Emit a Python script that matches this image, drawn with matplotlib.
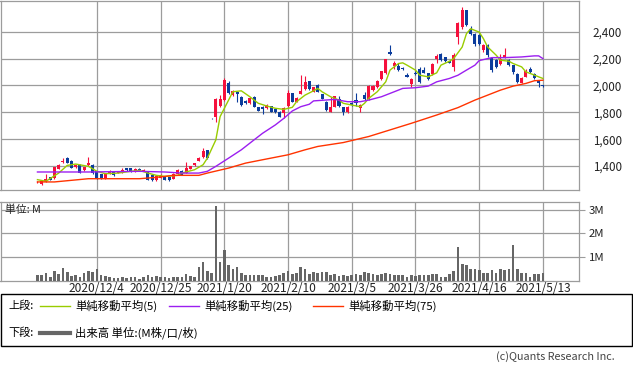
import matplotlib
matplotlib.use("Agg")
import numpy as np
import matplotlib.pyplot as plt
from matplotlib.lines import Line2D
from matplotlib.patches import Rectangle

plt.rcParams['font.family'] = ['Noto Sans CJK JP', 'DejaVu Sans']

# daily candles (yen)
opens = [1280, 1269, 1286, 1318, 1311, 1380, 1427, 1459, 1440, 1390,
         1410, 1368, 1405, 1410, 1360, 1340, 1306, 1340, 1353, 1348,
         1353, 1385, 1385, 1360, 1380, 1365, 1360, 1331, 1299, 1311,
         1324, 1318, 1306, 1343, 1365, 1348, 1380, 1405, 1440, 1464,
         1516, 1756, 1763, 1847, 1891, 2015, 1928, 1953, 1916, 1886,
         1867, 1916, 1837, 1842, 1830, 1847, 1825, 1805, 1793, 1847,
         1941, 1879, 1936, 1970, 2032, 1953, 2002, 1933, 1879, 1805,
         1842, 1896, 1837, 1800, 1872, 1891, 1835, 1928, 1896, 1965,
         1985, 2047, 2094, 2249, 2146, 2146, 2128, 2076, 2010, 2096,
         2126, 2118, 2089, 2084, 2195, 2237, 2212, 2180, 2138, 2360,
         2434, 2558, 2422, 2385, 2373, 2262, 2304, 2205, 2188, 2158,
         2212, 2188, 2150, 2084, 2020, 2064, 2126, 2084, 2032, 2002]
highs = [1292, 1290, 1343, 1321, 1395, 1415, 1460, 1467, 1443, 1410,
         1413, 1395, 1469, 1415, 1365, 1343, 1352, 1373, 1356, 1363,
         1385, 1388, 1388, 1383, 1385, 1378, 1365, 1334, 1331, 1340,
         1328, 1321, 1346, 1376, 1368, 1429, 1402, 1426, 1464, 1533,
         1520, 1757, 1905, 1928, 2057, 2030, 1965, 1960, 1920, 1890,
         1910, 1925, 1842, 1845, 1860, 1850, 1828, 1808, 1840, 1965,
         1945, 1915, 2076, 2069, 2035, 1990, 2008, 1936, 1882, 1916,
         1925, 1923, 1840, 1847, 1878, 1941, 1860, 1950, 2000, 2000,
         2040, 2110, 2200, 2299, 2180, 2165, 2135, 2090, 2052, 2110,
         2135, 2140, 2094, 2165, 2232, 2245, 2215, 2185, 2240, 2470,
         2580, 2565, 2440, 2390, 2380, 2310, 2310, 2212, 2195, 2237,
         2280, 2195, 2155, 2090, 2062, 2120, 2140, 2094, 2040, 2005]
lows = [1272, 1262, 1284, 1294, 1306, 1375, 1425, 1420, 1383, 1387,
        1345, 1365, 1402, 1340, 1303, 1302, 1302, 1338, 1328, 1346,
        1350, 1365, 1356, 1357, 1365, 1362, 1296, 1290, 1291, 1308,
        1296, 1292, 1302, 1340, 1333, 1345, 1377, 1402, 1437, 1460,
        1455, 1754, 1731, 1843, 1887, 1940, 1920, 1879, 1850, 1862,
        1862, 1838, 1808, 1785, 1827, 1800, 1797, 1765, 1760, 1843,
        1875, 1875, 1933, 1965, 1965, 1950, 1950, 1896, 1812, 1800,
        1838, 1843, 1780, 1797, 1848, 1847, 1805, 1895, 1890, 1960,
        1980, 2040, 2088, 2225, 2125, 2110, 2118, 2060, 1990, 2080,
        2020, 2090, 2040, 2080, 2170, 2180, 2175, 2165, 2110, 2311,
        2420, 2440, 2375, 2290, 2300, 2250, 2215, 2100, 2128, 2150,
        2205, 2145, 2085, 2020, 2015, 2060, 2095, 2045, 1985, 1990]
closes = [1285, 1286, 1306, 1296, 1390, 1410, 1440, 1422, 1385, 1405,
          1348, 1390, 1422, 1348, 1306, 1306, 1348, 1355, 1331, 1360,
          1373, 1368, 1360, 1378, 1368, 1373, 1299, 1294, 1328, 1336,
          1299, 1296, 1343, 1373, 1336, 1385, 1398, 1422, 1459, 1513,
          1459, 1755, 1899, 1896, 2039, 1946, 1960, 1933, 1854, 1867,
          1904, 1842, 1812, 1822, 1854, 1805, 1800, 1768, 1835, 1941,
          1879, 1909, 1960, 2025, 1970, 1985, 1953, 1899, 1817, 1842,
          1921, 1847, 1805, 1842, 1852, 1867, 1854, 1899, 1995, 1995,
          2034, 2106, 2195, 2237, 2168, 2114, 2121, 2064, 2047, 2084,
          2027, 2096, 2047, 2158, 2220, 2188, 2180, 2170, 2225, 2464,
          2558, 2447, 2385, 2311, 2311, 2304, 2225, 2114, 2138, 2200,
          2225, 2150, 2101, 2027, 2057, 2106, 2101, 2052, 2015, 1995]
# volume, million shares
volume = [0.22, 0.22, 0.33, 0.13, 0.39, 0.28, 0.52, 0.36, 0.20, 0.22,
          0.17, 0.30, 0.39, 0.36, 0.48, 0.22, 0.20, 0.14, 0.10, 0.10,
          0.13, 0.12, 0.13, 0.13, 0.07, 0.14, 0.22, 0.17, 0.19, 0.17,
          0.14, 0.10, 0.13, 0.13, 0.13, 0.29, 0.19, 0.17, 0.59, 0.77,
          0.42, 0.30, 3.16, 0.78, 1.30, 0.65, 0.51, 0.57, 0.33, 0.23,
          0.25, 0.23, 0.25, 0.25, 0.16, 0.16, 0.19, 0.25, 0.32, 0.42,
          0.29, 0.30, 0.57, 0.48, 0.28, 0.35, 0.32, 0.38, 0.38, 0.23,
          0.26, 0.20, 0.22, 0.20, 0.22, 0.26, 0.25, 0.38, 0.33, 0.28,
          0.25, 0.26, 0.32, 0.29, 0.25, 0.22, 0.22, 0.17, 0.22, 0.20,
          0.23, 0.25, 0.25, 0.26, 0.28, 0.17, 0.14, 0.28, 0.41, 1.42,
          0.72, 0.68, 0.48, 0.48, 0.43, 0.32, 0.32, 0.46, 0.33, 0.48,
          0.46, 0.49, 1.49, 0.48, 0.33, 0.33, 0.17, 0.28, 0.29, 0.33]

tick_days = [14, 29, 44, 59, 74, 89, 104, 119]
tick_labels = ['2020/12/4', '2020/12/25', '2021/1/20', '2021/2/10',
               '2021/3/5', '2021/3/26', '2021/4/16', '2021/5/13']

# moving averages
ma5_days = [0, 2, 5, 7, 9, 12, 14, 16, 19, 22, 24, 26, 28, 30, 33, 34, 37, 39, 40, 42,
            43, 45, 46, 48, 50, 52, 54, 56, 58, 60, 61, 63, 65, 66, 67, 69, 71, 72, 74, 76,
            77, 78, 80, 82, 83, 85, 86, 87, 89, 90, 92, 94, 95, 97, 98, 100, 101, 102, 104, 105,
            106, 108, 109, 111, 112, 114, 115, 117, 118, 119]
ma5 = [1299, 1287, 1348, 1405, 1415, 1398, 1361, 1343, 1348, 1361, 1368, 1348, 1331, 1323, 1331, 1348, 1373, 1410, 1459, 1595,
       1768, 1891, 1953, 1960, 1916, 1867, 1847, 1830, 1822, 1837, 1879, 1928, 1960, 1978, 1953, 1916, 1891, 1867, 1854, 1842,
       1867, 1904, 1953, 2027, 2114, 2163, 2168, 2151, 2114, 2076, 2064, 2094, 2151, 2180, 2200, 2286, 2385, 2422, 2397, 2348,
       2286, 2225, 2188, 2180, 2163, 2138, 2101, 2077, 2064, 2052]
ma25_days = [0, 12, 24, 30, 34, 38, 40, 42, 45, 48, 51, 53, 56, 58, 60, 62, 64, 65, 70, 73,
             76, 78, 81, 84, 86, 89, 92, 94, 97, 99, 101, 103, 104, 107, 110, 114, 117, 118, 119]
ma25 = [1356, 1356, 1361, 1356, 1348, 1348, 1361, 1398, 1459, 1521, 1595, 1644, 1706, 1755, 1810, 1842, 1860, 1885, 1896, 1879,
        1879, 1891, 1916, 1953, 1978, 1983, 1995, 2027, 2052, 2076, 2114, 2151, 2185, 2207, 2207, 2212, 2220, 2220, 2200]
ma75_days = [0, 4, 7, 12, 24, 28, 32, 38, 40, 45, 49, 53, 59, 63, 66, 72, 78, 83, 88, 94,
             99, 103, 106, 109, 112, 115, 117, 119]
ma75 = [1282, 1282, 1291, 1306, 1306, 1316, 1331, 1331, 1348, 1385, 1422, 1447, 1484, 1521, 1546, 1575, 1620, 1669, 1718, 1780,
        1835, 1891, 1928, 1965, 1995, 2015, 2035, 2039]

RED = '#F5103C'
BLUE = '#0B3C9C'
GRID = '#9C9C9C'
W, H = 633, 371

fig = plt.figure(figsize=(W / 100, H / 100), dpi=100)


def box(x0, y0, x1, y1):
    # pixel box (top-left origin) -> figure fraction rect
    return [x0 / W, 1 - y1 / H, (x1 - x0) / W, (y1 - y0) / H]


ax = fig.add_axes(box(0.5, 0.5, 579, 190))
axv = fig.add_axes(box(0.5, 202, 579, 280.5))

days = np.arange(len(closes))
o = np.array(opens)
c = np.array(closes)
colors = np.where(c >= o, RED, BLUE)

# candles
ax.vlines(days, lows, highs, colors=colors, lw=0.8, zorder=3)
body_lo = np.minimum(o, c)
body_h = np.maximum(np.abs(c - o), 5)
ax.bar(days, body_h, bottom=body_lo, width=0.72, color=colors, linewidth=0, zorder=3)

ax.plot(ma5_days, ma5, color='#99CC00', lw=1.0, zorder=4)
ax.plot(ma25_days, ma25, color='#9B1EF0', lw=1.0, zorder=4)
ax.plot(ma75_days, ma75, color='#FF3300', lw=1.0, zorder=4)

axv.bar(days, volume, width=0.62, color='#666666', linewidth=0, zorder=3)

for a in (ax, axv):
    a.set_xlim(-8.7, 127.5)
    a.set_xticks(tick_days)
    a.grid(True, color=GRID, lw=0.9)
    a.set_axisbelow(True)
    for s in a.spines.values():
        s.set_color(GRID)
        s.set_linewidth(0.9)
    a.yaxis.tick_right()

ax.set_ylim(1222, 2632)
yt = [1400, 1600, 1800, 2000, 2200, 2400]
ax.set_yticks(yt)
ax.set_yticklabels([f'{v:,}' for v in yt])
ax.tick_params(axis='x', labelbottom=False, length=0)
ax.tick_params(axis='y', length=0, pad=10, labelsize=8.4, labelcolor='#222222')

axv.set_ylim(0, 3.34)
axv.set_yticks([1, 2, 3])
axv.set_yticklabels(['1M', '2M', '3M'])
axv.set_xticklabels(tick_labels)
axv.tick_params(axis='x', length=0, pad=1, labelsize=8.6, labelcolor='#222222')
axv.tick_params(axis='y', length=4, color=GRID, pad=3, labelsize=8.2, labelcolor='#222222')

fig.text(5 / W, 1 - 210 / H, '単位: M', fontsize=7.8, va='center', color='#222222')

# legend box
fig.add_artist(Rectangle((0.5 / W, 1 - 346 / H), 631.5 / W, 52 / H, transform=fig.transFigure,
                         fill=False, ec='black', lw=1))
y1 = 1 - 306 / H
y2 = 1 - 333 / H
fig.text(8 / W, y1, '上段:', fontsize=8, va='center')
fig.text(8 / W, y2, '下段:', fontsize=8, va='center')
items = [(40, '#99CC00', '単純移動平均(5)'), (169, '#9B1EF0', '単純移動平均(25)'),
         (313, '#FF3300', '単純移動平均(75)')]
for x0, col, lab in items:
    fig.add_artist(Line2D([x0 / W, (x0 + 30) / W], [y1, y1], transform=fig.transFigure, color=col, lw=1))
    fig.text((x0 + 35) / W, y1, lab, fontsize=8.2, va='center')
fig.add_artist(Line2D([40 / W, 70 / W], [y2, y2], transform=fig.transFigure, color='#666666', lw=3))
fig.text(75 / W, y2, '出来高 単位:(M株/口/枚)', fontsize=8.2, va='center')

fig.text(615 / W, 1 - 357 / H, '(c)Quants Research Inc.', fontsize=7.8, ha='right', va='center',
         color='#444444')

fig.savefig('out.png', dpi=100)
